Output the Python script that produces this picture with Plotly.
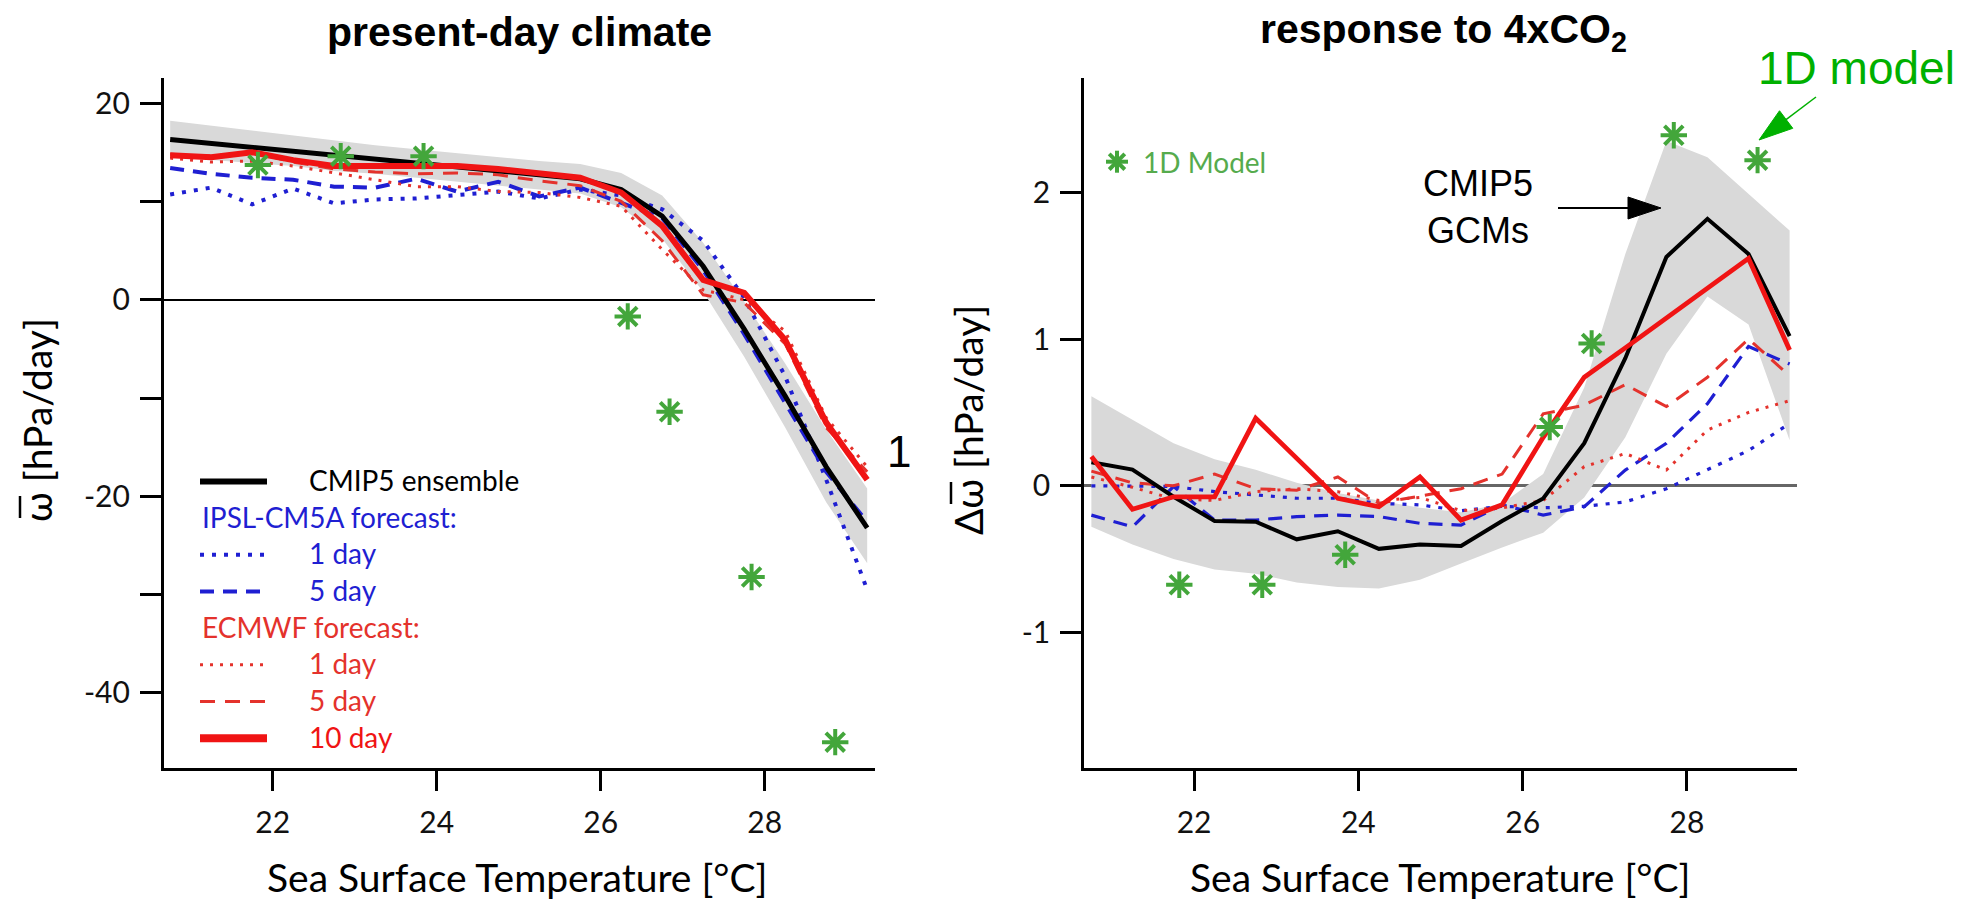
import math
import plotly.graph_objects as go

W, H = 1980, 901

# ---------------- data ----------------
sst = [20.75, 21.25, 21.75, 22.25, 22.75, 23.25, 23.75, 24.25, 24.75,
       25.25, 25.75, 26.25, 26.75, 27.25, 27.75, 28.25, 28.75, 29.25]

# present-day climate  (omega, hPa/day)
pd_cmip5 = [16.3, 15.9, 15.5, 15.1, 14.6, 14.2, 13.8, 13.4, 13.0,
            12.6, 12.3, 11.2, 8.5, 3.4, -3.0, -9.8, -17.0, -23.2]
pd_cmip5_hi = [18.2, 17.7, 17.2, 16.7, 16.2, 15.7, 15.3, 14.9, 14.5,
               14.1, 13.8, 12.9, 10.6, 5.8, -0.2, -6.5, -13.2, -19.2]
pd_cmip5_lo = [14.6, 14.2, 13.9, 13.6, 13.1, 12.8, 12.4, 12.0, 11.6,
               11.2, 10.8, 9.4, 6.2, 0.8, -5.8, -13.0, -20.6, -26.8]
pd_ipsl_1d = [10.7, 11.4, 9.7, 11.3, 9.8, 10.2, 10.3, 10.7, 11.0,
              10.3, 11.2, 10.6, 9.2, 6.0, 0.2, -7.8, -18.3, -29.5]
pd_ipsl_5d = [13.4, 12.8, 12.4, 12.2, 11.5, 11.4, 12.3, 11.0, 12.0,
              10.5, 11.4, 9.8, 8.3, 3.0, -3.5, -10.5, -17.5, -22.6]
pd_ecmwf_1d = [14.4, 14.0, 14.1, 13.6, 12.9, 12.2, 11.5, 11.5, 11.0,
               10.9, 10.4, 9.5, 5.1, 1.0, 0.0, -3.2, -12.0, -17.0]
pd_ecmwf_5d = [14.8, 14.6, 15.0, 14.0, 13.3, 13.0, 12.8, 12.9, 12.7,
               12.1, 11.6, 10.0, 6.0, 0.5, -0.3, -4.5, -13.0, -17.5]
pd_ecmwf_10d = [14.7, 14.5, 15.0, 14.2, 13.6, 13.6, 13.6, 13.6, 13.3,
                12.9, 12.4, 10.9, 7.5, 2.0, 0.7, -4.1, -12.5, -18.3]

# response to 4xCO2  (delta omega, hPa/day)
resp_cmip5 = [0.16, 0.11, -0.075, -0.24, -0.245, -0.365, -0.31, -0.43, -0.40,
              -0.41, -0.24, -0.086, 0.29, 0.87, 1.56, 1.82, 1.58, 1.02]
resp_cmip5_hi = [0.61, 0.45, 0.29, 0.18, 0.11, 0.02, -0.05, -0.10, -0.15,
                 -0.18, -0.12, 0.08, 0.67, 1.58, 2.35, 2.24, 1.99, 1.74]
resp_cmip5_lo = [-0.28, -0.40, -0.50, -0.57, -0.60, -0.66, -0.69, -0.70, -0.64,
                 -0.53, -0.42, -0.32, -0.08, 0.33, 0.90, 1.29, 1.10, 0.31]
resp_ipsl_1d = [0.0, 0.0, -0.005, -0.04, -0.06, -0.085, -0.085, -0.12, -0.13,
                -0.17, -0.14, -0.15, -0.14, -0.11, -0.02, 0.107, 0.24, 0.425]
resp_ipsl_5d = [-0.20, -0.28, -0.005, -0.234, -0.234, -0.21, -0.20, -0.21, -0.256,
                -0.268, -0.13, -0.20, -0.143, 0.107, 0.29, 0.56, 0.95, 0.83]
resp_ecmwf_1d = [0.06, -0.01, -0.09, -0.10, -0.04, -0.02, -0.04, -0.10, -0.08,
                 -0.17, -0.15, -0.10, 0.13, 0.22, 0.107, 0.38, 0.50, 0.58]
resp_ecmwf_5d = [0.10, 0.02, 0.0, 0.08, -0.02, -0.03, 0.06, -0.12, -0.07,
                 -0.02, 0.08, 0.49, 0.55, 0.69, 0.54, 0.74, 1.00, 0.75]
resp_ecmwf_10d = [0.20, -0.16, -0.075, -0.075, 0.46, 0.19, -0.086, -0.143, 0.061,
                  -0.234, -0.13, 0.33, 0.74, 0.94, 1.14, 1.34, 1.55, 0.925]

# 1D model
sst_1d = [21.82, 22.83, 23.84, 26.33, 26.84, 27.84, 28.86]
pd_1d = [13.7, 14.6, 14.6, -1.7, -11.4, -28.2, -45.0]
resp_1d = [-0.675, -0.675, -0.47, 0.40, 0.97, 2.39, 2.22]

x_ticks = [22, 24, 26, 28]
pd_ticks = [-40, -20, 0, 20]
pd_ticklabels = ["-40", "-20", "0", "20"]
pd_minor_ticks = [-30, -10, 10]
resp_ticks = [-1, 0, 1, 2]
resp_ticklabels = ["-1", "0", "1", "2"]

# ---------------- styles ----------------
BLACK = "#000000"
BLUE = "#1f1fd2"
RED = "#f01414"
RED_L = "#e4322c"
GRAY = "#d9d9d9"
STAR = "#43a63b"
TXT_FONT = "Lato, 'Open Sans', sans-serif"
ARIAL = "'Liberation Sans', Arial, sans-serif"


def px(x):
    return x / W


def py(y):
    return 1 - y / H


fig = go.Figure()


def add_panel(xa, ya, band_lo, band_hi, ipsl1, ipsl5, ec1, ec5, ec10, cm, star_y, scale):
    fig.add_trace(go.Scatter(
        x=sst + sst[::-1], y=band_hi + band_lo[::-1], fill="toself",
        fillcolor=GRAY, line=dict(width=0), mode="lines",
        xaxis=xa, yaxis=ya, showlegend=False, hoverinfo="skip"))
    fig.add_trace(go.Scatter(x=sst, y=ipsl1, mode="lines", xaxis=xa, yaxis=ya,
                             line=dict(color=BLUE, width=4 * scale, dash="4px,8px"),
                             showlegend=False, name="IPSL-CM5A 1 day"))
    fig.add_trace(go.Scatter(x=sst, y=ipsl5, mode="lines", xaxis=xa, yaxis=ya,
                             line=dict(color=BLUE, width=4 * scale, dash="14px,9px"),
                             showlegend=False, name="IPSL-CM5A 5 day"))
    fig.add_trace(go.Scatter(x=sst, y=ec1, mode="lines", xaxis=xa, yaxis=ya,
                             line=dict(color=RED_L, width=3, dash="3px,7px"),
                             showlegend=False, name="ECMWF 1 day"))
    fig.add_trace(go.Scatter(x=sst, y=ec5, mode="lines", xaxis=xa, yaxis=ya,
                             line=dict(color=RED_L, width=3, dash="15px,10px"),
                             showlegend=False, name="ECMWF 5 day"))
    fig.add_trace(go.Scatter(x=sst, y=cm, mode="lines", xaxis=xa, yaxis=ya,
                             line=dict(color=BLACK, width=5 * scale),
                             showlegend=False, name="CMIP5 ensemble"))
    fig.add_trace(go.Scatter(x=sst, y=ec10, mode="lines", xaxis=xa, yaxis=ya,
                             line=dict(color=RED, width=6 * scale),
                             showlegend=False, name="ECMWF 10 day"))
    fig.add_trace(go.Scatter(x=sst_1d, y=star_y, mode="markers", xaxis=xa, yaxis=ya,
                             marker=dict(symbol="asterisk-open", size=22, color=STAR,
                                         line=dict(color=STAR, width=4)),
                             showlegend=False, name="1D Model"))


add_panel("x", "y", pd_cmip5_lo, pd_cmip5_hi, pd_ipsl_1d, pd_ipsl_5d,
          pd_ecmwf_1d, pd_ecmwf_5d, pd_ecmwf_10d, pd_cmip5, pd_1d, 1.0)
add_panel("x2", "y2", resp_cmip5_lo, resp_cmip5_hi, resp_ipsl_1d, resp_ipsl_5d,
          resp_ecmwf_1d, resp_ecmwf_5d, resp_ecmwf_10d, resp_cmip5, resp_1d, 0.8)

axis_common = dict(showline=True, linecolor=BLACK, linewidth=2.5, ticks="outside",
                   ticklen=21, tickwidth=2.5, tickcolor=BLACK, showgrid=False,
                   tickfont=dict(family=TXT_FONT, size=30, color="#111"))

y_dom = [py(767.7), py(78)]
fig.update_layout(
    width=W, height=H, autosize=False,
    margin=dict(l=0, r=0, t=0, b=0),
    paper_bgcolor="white", plot_bgcolor="white",
    showlegend=False,
    xaxis=dict(domain=[px(163.6), px(875.4)], range=[20.67, 29.35], tickvals=x_ticks,
               anchor="y", zeroline=False, ticklabelstandoff=6, **axis_common),
    yaxis=dict(domain=y_dom, range=[-47.6, 22.55], tickvals=pd_ticks, ticktext=pd_ticklabels,
               minor=dict(tickvals=pd_minor_ticks, ticks="outside", ticklen=21,
                          tickwidth=2.5, tickcolor=BLACK, showgrid=False),
               anchor="x", zeroline=True, zerolinecolor=BLACK, zerolinewidth=2,
               ticklabelstandoff=4, **axis_common),
    xaxis2=dict(domain=[px(1084), px(1797)], range=[20.66, 29.34], tickvals=x_ticks,
                anchor="y2", zeroline=False, ticklabelstandoff=6, **axis_common),
    yaxis2=dict(domain=y_dom, range=[-1.922, 2.78], tickvals=resp_ticks,
                ticktext=resp_ticklabels,
                anchor="x2", zeroline=True, zerolinecolor="#666666", zerolinewidth=3,
                ticklabelstandoff=4, **axis_common),
)

ann = []
shapes = []


def text(x, y, s, size, color=BLACK, family=TXT_FONT, xanchor="center", angle=0):
    ann.append(dict(x=px(x), y=py(y), xref="paper", yref="paper", text=s,
                    showarrow=False, xanchor=xanchor, yanchor="middle",
                    textangle=angle,
                    font=dict(size=size, color=color, family=family)))


def seg(x0, y0, x1, y1, color, width, dash="solid"):
    shapes.append(dict(type="line", xref="paper", yref="paper",
                       x0=px(x0), y0=py(y0), x1=px(x1), y1=py(y1),
                       line=dict(color=color, width=width, dash=dash)))


def arrow(tail, tip, color, width, head_len, head_half):
    dx, dy = tip[0] - tail[0], tip[1] - tail[1]
    L = math.hypot(dx, dy)
    ux, uy = dx / L, dy / L
    bx, by = tip[0] - head_len * ux, tip[1] - head_len * uy
    nx, ny = -uy, ux
    seg(tail[0], tail[1], bx + ux, by + uy, color, width)
    c1 = (bx + head_half * nx, by + head_half * ny)
    c2 = (bx - head_half * nx, by - head_half * ny)
    path = "M{},{} L{},{} L{},{} Z".format(px(tip[0]), py(tip[1]), px(c1[0]), py(c1[1]),
                                           px(c2[0]), py(c2[1]))
    shapes.append(dict(type="path", xref="paper", yref="paper", path=path,
                       fillcolor=color, line=dict(color=color, width=1)))


# titles
text(519.5, 32, "<b>present-day climate</b>", 41, family=ARIAL)
text(1443, 32, "<b>response to 4xCO<sub>2</sub></b>", 41, family=ARIAL)
# axis titles
text(517, 877, "Sea Surface Temperature [°C]", 39)
text(1440, 877, "Sea Surface Temperature [°C]", 39)
text(37, 420, "ω [hPa/day]", 39, angle=-90)
seg(20, 496, 20, 518, BLACK, 2.5)          # overline of omega
text(968, 420, "Δω [hPa/day]", 39, angle=-90)
seg(951, 482, 951, 504, BLACK, 2.5)        # overline of omega

# left legend
legend_rows = [
    (480.0, "CMIP5 ensemble", BLACK, 307, dict(color=BLACK, width=6, dash="solid")),
    (516.7, "IPSL-CM5A forecast:", BLUE, 200, None),
    (553.3, "1 day", BLUE, 307, dict(color=BLUE, width=4, dash="4px,8px")),
    (590.0, "5 day", BLUE, 307, dict(color=BLUE, width=4, dash="14px,9px")),
    (626.7, "ECMWF forecast:", RED_L, 200, None),
    (663.3, "1 day", RED_L, 307, dict(color=RED_L, width=3, dash="3px,7px")),
    (700.0, "5 day", RED_L, 307, dict(color=RED_L, width=3, dash="15px,10px")),
    (736.7, "10 day", RED, 307, dict(color=RED, width=8, dash="solid")),
]
for yy, label, col, xx, ln in legend_rows:
    text(xx, yy, label, 28, color=col, xanchor="left")
    if ln is not None:
        seg(200, yy + 1.5, 267, yy + 1.5, ln["color"], ln["width"], ln["dash"])

# right legend (1D Model)
cx, cy, r = 1117, 161.7, 11
for ang in (0, 45, 90, 135):
    dx = r * math.cos(math.radians(ang))
    dy = r * math.sin(math.radians(ang))
    seg(cx - dx, cy - dy, cx + dx, cy + dy, STAR, 4)
text(1141, 161.7, "1D Model", 28, color="#56ab4d", xanchor="left")

# overlay annotations
text(1856, 68, "1D model", 46, color="#00b000", family=ARIAL)
arrow((1816, 97), (1759, 140), "#00b000", 1.5, 34, 11)
text(1478, 207, "CMIP5<br>GCMs", 36, family=ARIAL)
arrow((1558, 208), (1661, 208), BLACK, 2, 33, 11)
text(899, 451, "1", 44, family=ARIAL)

fig.update_layout(annotations=ann, shapes=shapes)

fig.write_html("out.html", include_plotlyjs=True, full_html=True,
               config={"displayModeBar": False},
               post_script="document.body.style.margin='0';")
